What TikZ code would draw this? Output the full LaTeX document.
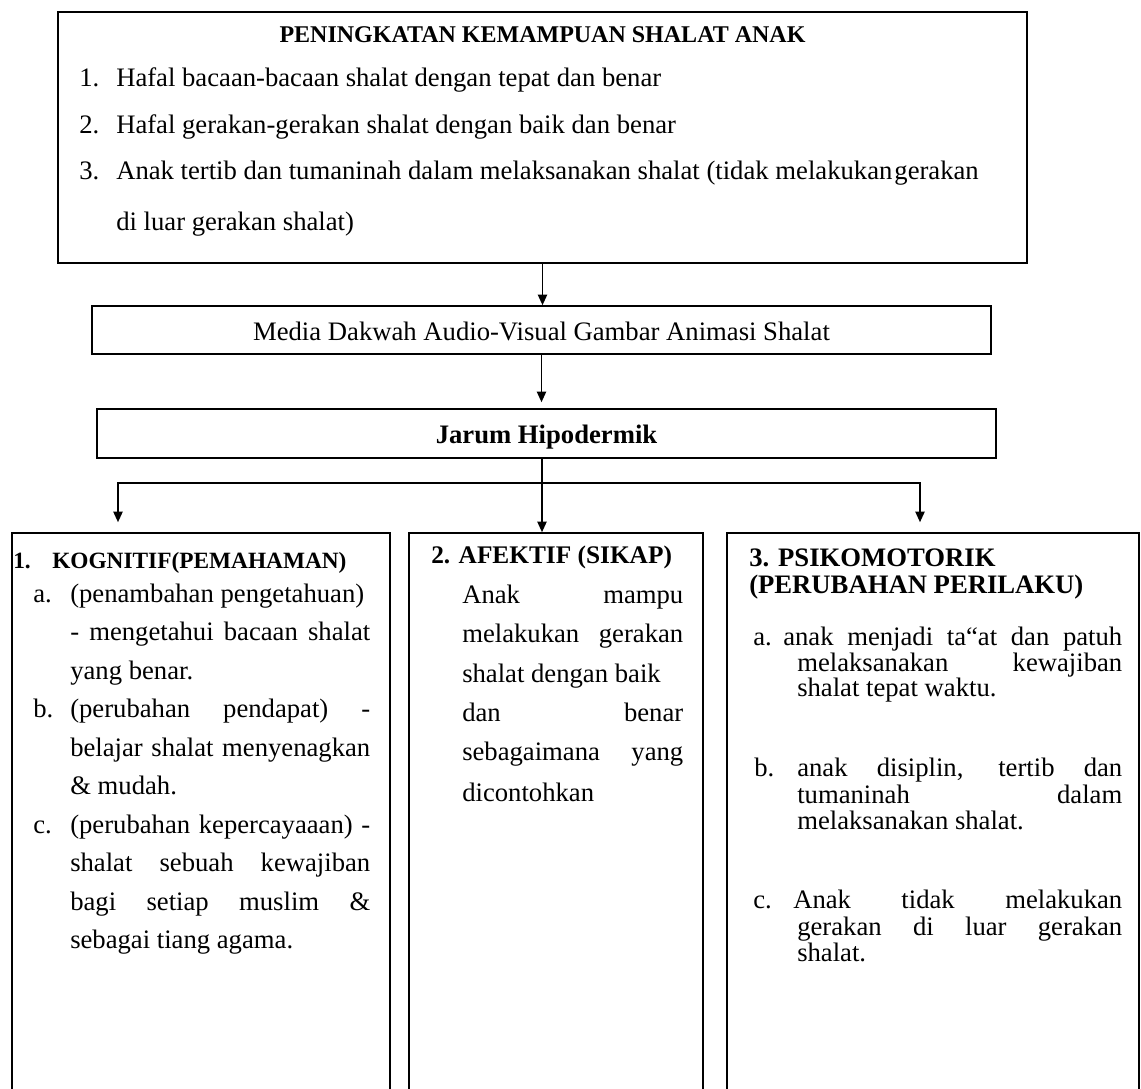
\documentclass[tikz,border=0pt]{standalone}
\usepackage{fontspec}
\setmainfont{Liberation Serif}[BoldFont={Liberation Serif Bold},ItalicFont={Liberation Serif Italic}]
\usetikzlibrary{arrows.meta,fit,calc}
\newcommand\jl[2]{\makebox[\dimexpr #1pt*3/4\relax][s]{#2}}
\begin{document}
\begin{tikzpicture}[x=0.75pt,y=-0.75pt,
  box/.style={draw, line width=1.2pt, inner sep=0pt},
  arr/.style={line width=1.2pt, -{Triangle[length=8pt,width=7pt]}},
  ln/.style={line width=1.2pt},
  body/.style={anchor=base west, inner sep=0pt, font=\fontsize{20}{24}\selectfont},
  ttl/.style={anchor=base west, inner sep=0pt, font=\fontsize{#1}{24}\selectfont\bfseries},
]
\useasboundingbox[fill=white] (0,0) rectangle (1141,1088);

% boxes
\node[box, fit={(58,12) (1027,263)}] (top) {};
\node[box, fit={(92,306) (991,354)}] (media) {};
\node[box, fit={(97,409) (996,458)}] (jarum) {};
\node[box, fit={(12,533) (390,1100)}] (b1) {};
\node[box, fit={(409,533) (703,1100)}] (b2) {};
\node[box, fit={(727,533) (1139,1100)}] (b3) {};

% connectors
\coordinate (hl) at (118,483);
\coordinate (hr) at (920,483);
\coordinate (hm) at (542,483);
\draw[arr] (top.south) -- (top.south |- media.north);
\draw[arr, shorten >=4.5pt] (media.south) -- (media.south |- jarum.north);
\draw[arr] (jarum.south -| hm) -- (b2.north -| hm);
\draw[arr, shorten >=7.5pt] (hm) -- (hl) -- (hl |- b1.north);
\draw[arr, shorten >=7.5pt] (hm) -- (hr) -- (hr |- b3.north);

% top box text
\node[ttl=18, anchor=base] (tt) at (542.5,43) {PENINGKATAN KEMAMPUAN SHALAT ANAK};
\node[body] (n1) at (79,87) {1.};
\node[body] (i1) at (116,87) {Hafal bacaan-bacaan shalat dengan tepat dan benar};
\node[body] (n2) at (79,133) {2.};
\node[body] (i2) at (116,133) {Hafal gerakan-gerakan shalat dengan baik dan benar};
\node[body] (n3) at (79,179) {3.};
\node[body] (i3) at (116,179) {Anak tertib dan tumaninah dalam melaksanakan shalat (tidak melakukan\kern1.5pt gerakan};
\node[body] (i3b) at (116,230) {di luar gerakan shalat)};

% media / jarum
\node[body, anchor=base] (mt) at (541.5,340) {Media Dakwah Audio-Visual Gambar Animasi Shalat};
\node[ttl=20, anchor=base] (jt) at (546.5,443) {Jarum Hipodermik};

% box 1
\node[ttl=17.5] (k0) at (13,568) {1.};
\node[ttl=17.5] (kt) at (52,568) {KOGNITIF(PEMAHAMAN)};
\node[body] (ka) at (33,602) {a.};
\node[body] (ka1) at (70,602) {(penambahan pengetahuan)};
\node[body] (ka2) at (70,640.5) {\jl{300}{- mengetahui bacaan shalat}};
\node[body] (ka3) at (70,679) {yang benar.};
\node[body] (kb) at (33,717.5) {b.};
\node[body] (kb1) at (70,717.5) {\jl{300}{(perubahan pendapat) -}};
\node[body] (kb2) at (70,756) {\jl{300}{belajar shalat menyenagkan}};
\node[body] (kb3) at (70,794.5) {\& mudah.};
\node[body] (kc) at (33,833) {c.};
\node[body] (kc1) at (70,833) {\jl{300}{(perubahan kepercayaaan) -}};
\node[body] (kc2) at (70,871.5) {\jl{300}{shalat sebuah kewajiban}};
\node[body] (kc3) at (70,910) {\jl{300}{bagi setiap muslim \&}};
\node[body] (kc4) at (70,948.5) {sebagai tiang agama.};

% box 2
\node[ttl=19] (at) at (431,563) {2. AFEKTIF (SIKAP)};
\node[body] (a1) at (462,603) {\jl{221}{Anak mampu}};
\node[body] (a2) at (462,642) {\jl{221}{melakukan gerakan}};
\node[body] (a3) at (462,682) {shalat dengan baik};
\node[body] (a4) at (462,721) {\jl{221}{dan benar}};
\node[body] (a5) at (462,760) {\jl{221}{sebagaimana yang}};
\node[body] (a6) at (462,801) {dicontohkan};

% box 3
\node[ttl=20] (pt1) at (749,566) {3. PSIKOMOTORIK};
\node[ttl=20] (pt2) at (749,593) {(PERUBAHAN PERILAKU)};
\node[body] (pa) at (753,645.5) {a.};
\node[body] (pa1) at (783,645.5) {\jl{339}{anak menjadi ta“at dan patuh}};
\node[body] (pa2) at (797,671.5) {\jl{325}{melaksanakan kewajiban}};
\node[body] (pa3) at (797,696.5) {shalat tepat waktu.};
\node[body] (pb) at (754,776.5) {b.};
\node[body] (pb1) at (797,776.5) {\jl{325}{anak disiplin, tertib dan}};
\node[body] (pb2) at (797,803) {\jl{325}{tumaninah dalam}};
\node[body] (pb3) at (797,829) {melaksanakan shalat.};
\node[body] (pc) at (753,908) {c.};
\node[body] (pc1) at (793,908) {\jl{329}{Anak tidak melakukan}};
\node[body] (pc2) at (797,935) {\jl{325}{gerakan di luar gerakan}};
\node[body] (pc3) at (797,961.5) {shalat.};
\end{tikzpicture}
\end{document}
